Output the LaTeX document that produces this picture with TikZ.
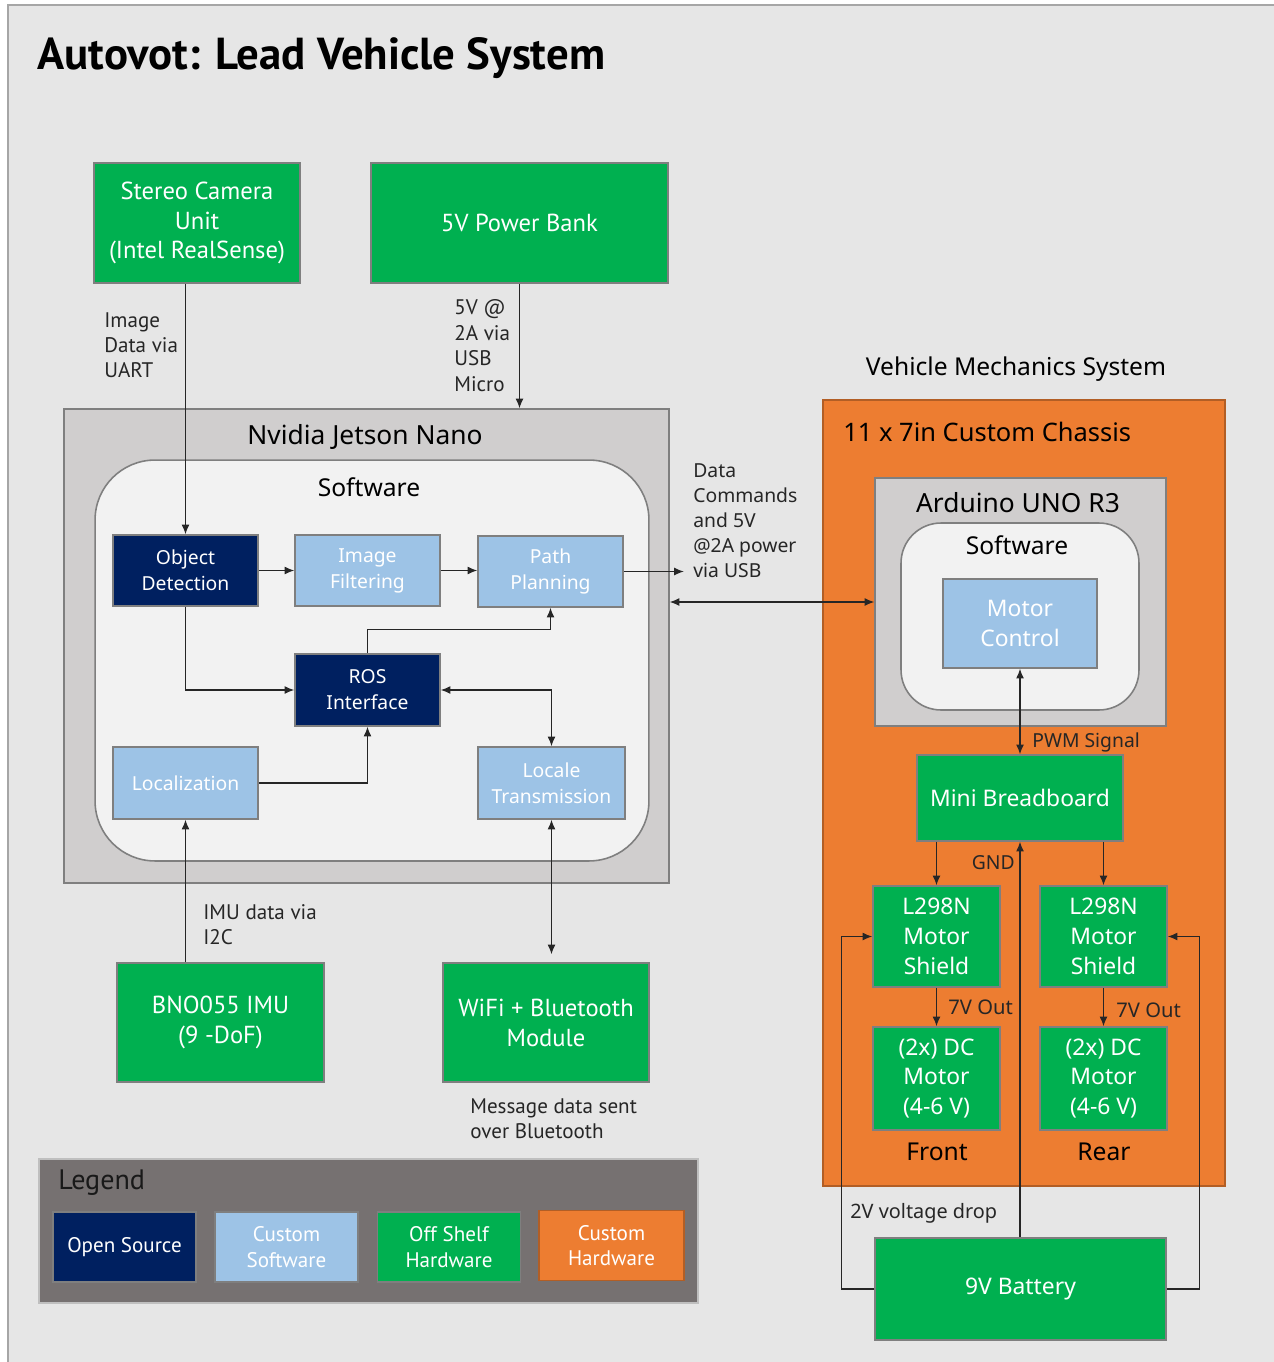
\documentclass[tikz,border=0pt]{standalone}
\usepackage{fontspec}
\setmainfont{Noto Sans}
\newfontfamily\condfont{PT Sans}
\usetikzlibrary{arrows.meta,calc,positioning}
\definecolor{Navy}{HTML}{002060}
\definecolor{SoftBlue}{HTML}{9DC3E6}
\definecolor{ShelfGreen}{HTML}{00B050}
\definecolor{ChassisOrange}{HTML}{ED7D31}
\definecolor{BoardGray}{HTML}{D0CECE}
\definecolor{PaneWhite}{HTML}{F2F2F2}
\definecolor{PageGray}{HTML}{E6E6E6}
\definecolor{LegendGray}{HTML}{767171}
\definecolor{Edge}{HTML}{7F7F7F}
\definecolor{Ink}{HTML}{262626}

\begin{document}
\begin{tikzpicture}[x=0.02cm,y=-0.02cm,>={Latex[length=5.5pt,width=4.5pt]},
  block/.style={draw=Edge,line width=0.9pt,text=white,align=center,inner sep=0pt},
  opensrc/.style={block,fill=Navy,minimum width=2.9cm,minimum height=1.42cm,font=\fontsize{11}{14.8}\selectfont},
  custsw/.style={opensrc,fill=SoftBlue},
  shelf/.style={block,fill=ShelfGreen},
  board/.style={draw=Edge,line width=0.9pt,fill=BoardGray},
  pane/.style={draw=Edge,line width=0.9pt,fill=PaneWhite},
  legendbox/.style={block,minimum width=2.86cm,minimum height=1.4cm,font=\condfont\fontsize{12}{14.5}\selectfont},
  wire/.style={line width=0.6pt,draw=black!85},
  note/.style={text=Ink,align=left,inner sep=0pt}]
  \useasboundingbox (0,0) rectangle (1274,1362);
  \fill[PageGray] (8,5) rectangle (1274,1362);
  \draw[black!35,line width=1pt] (8,1362) -- (8,5) -- (1274,5);
  \node[anchor=base west,inner sep=0pt,font=\condfont\bfseries\fontsize{25.5}{30}\selectfont] (title) at (37,70) {Autovot: Lead Vehicle System};

  % sensors and power on top
  \node[shelf,minimum width=4.12cm,minimum height=2.4cm,font=\condfont\fontsize{14}{17}\selectfont] (cam) at (197,223) {Stereo Camera\\Unit\\(Intel RealSense)};
  \node[shelf,minimum width=5.94cm,minimum height=2.4cm,font=\condfont\fontsize{14}{17}\selectfont] (bank) at (519.5,223) {5V Power Bank};

  % jetson
  \node[board,minimum width=12.1cm,minimum height=9.48cm] (jetson) at (366.5,646) {};
  \node[pane,rounded corners=1.2cm,minimum width=11.08cm,minimum height=8.02cm] (swnano) at (372,660.5) {};
  \node[font=\fontsize{15}{18}\selectfont,inner sep=0pt] (nanotitle) at (365,437) {Nvidia Jetson Nano};
  \node[font=\fontsize{14}{17}\selectfont,inner sep=0pt] (swnanotitle) at (369,487) {Software};
  \node[opensrc] (objdet) at (185.5,570.5) {Object\\Detection};
  \node[custsw] (imgfilt) at (367.5,570.5) {Image\\Filtering};
  \node[custsw] (path) at (550.5,571.5) {Path\\Planning};
  \node[opensrc,minimum height=1.44cm] (ros) at (367.5,690) {ROS\\Interface};
  \node[custsw,minimum height=1.44cm] (loc) at (185.5,783) {Localization};
  \node[custsw,minimum width=2.94cm,minimum height=1.44cm] (locale) at (551.5,783) {Locale\\Transmission};

  % modules below
  \node[shelf,minimum width=4.14cm,minimum height=2.38cm,font=\condfont\fontsize{14}{17}\selectfont] (imu) at (220.5,1022.5) {BNO055 IMU\\(9 -DoF)};
  \node[shelf,minimum width=4.12cm,minimum height=2.38cm,font=\condfont\fontsize{14}{17}\selectfont] (wifi) at (546,1022.5) {WiFi + Bluetooth\\Module};

  % vehicle mechanics
  \node[font=\fontsize{14}{17}\selectfont,inner sep=0pt] (vmtitle) at (1016,369) {Vehicle Mechanics System};
  \node[draw=ChassisOrange!75!black,line width=0.8pt,fill=ChassisOrange,minimum width=8.04cm,minimum height=15.72cm] (chassis) at (1024,793) {};
  \node[anchor=west,inner sep=0pt,font=\fontsize{14.5}{17}\selectfont] (chassistitle) at (843,432) {11 x 7in Custom Chassis};
  \node[board,minimum width=5.82cm,minimum height=4.96cm] (arduino) at (1020.5,602) {};
  \node[pane,rounded corners=0.8cm,minimum width=4.76cm,minimum height=3.74cm] (swuno) at (1020,616.5) {};
  \node[font=\fontsize{15}{18}\selectfont,inner sep=0pt] (unotitle) at (1018,503) {Arduino UNO R3};
  \node[font=\fontsize{14}{17}\selectfont,inner sep=0pt] (swunotitle) at (1017,545) {Software};
  \node[custsw,minimum width=3.08cm,minimum height=1.78cm,font=\fontsize{13}{17}\selectfont] (motor) at (1020,623.5) {Motor\\Control};
  \node[shelf,minimum width=4.12cm,minimum height=1.72cm,font=\fontsize{13}{17}\selectfont] (bread) at (1020,798) {Mini Breadboard};
  \node[shelf,minimum width=2.54cm,minimum height=2.02cm,font=\fontsize{13}{17}\selectfont] (shleft) at (936.5,936.5) {L298N\\Motor\\Shield};
  \node[shelf,minimum width=2.54cm,minimum height=2.02cm,font=\fontsize{13}{17}\selectfont] (shright) at (1103.5,936.5) {L298N\\Motor\\Shield};
  \node[shelf,minimum width=2.54cm,minimum height=2.06cm,font=\fontsize{13}{17}\selectfont] (dcleft) at (936.5,1078.5) {(2x) DC\\Motor\\(4-6 V)};
  \node[shelf,minimum width=2.54cm,minimum height=2.06cm,font=\fontsize{13}{17}\selectfont] (dcright) at (1103.5,1078.5) {(2x) DC\\Motor\\(4-6 V)};
  \node[font=\fontsize{14}{17}\selectfont,inner sep=0pt] (front) at (937,1152) {Front};
  \node[font=\fontsize{14}{17}\selectfont,inner sep=0pt] (rear) at (1104,1152) {Rear};
  \node[shelf,minimum width=5.82cm,minimum height=2.04cm,font=\fontsize{13}{17}\selectfont] (batt) at (1020.5,1289) {9V Battery};

  % legend
  \node[draw=black!25,line width=1pt,fill=LegendGray,minimum width=13.18cm,minimum height=2.88cm] (legend) at (368.5,1231) {};
  \node[anchor=west,inner sep=0pt,text=black!90,font=\condfont\fontsize{16}{19}\selectfont] (legendtitle) at (58,1183) {Legend};
  \node[legendbox,fill=Navy] (lgopen) at (124.5,1247) {Open Source};
  \node[legendbox,fill=SoftBlue] (lgsoft) at (286.5,1247) {Custom\\Software};
  \node[legendbox,fill=ShelfGreen] (lgshelf) at (449,1247) {Off Shelf\\Hardware};
  \node[legendbox,fill=ChassisOrange,draw=ChassisOrange!75!black,minimum width=2.9cm] (lghard) at (611.5,1245.5) {Custom\\Hardware};

  % connectors
  \draw[wire,->] (cam.south -| objdet.north) -- (objdet.north);
  \draw[wire,->] (bank.south) -- (bank.south |- jetson.north);
  \draw[wire,->] (objdet.east) -- (imgfilt.west);
  \draw[wire,->] (imgfilt.east) -- (imgfilt.east -| path.west);
  \draw[wire,->] (path.east) -- ++(60,0) coordinate (pathout);
  \draw[wire,->] (objdet.south) |- (ros.west);
  \draw[wire,->] (ros.north) -- ++(0,-24) -| (path.south);
  \draw[wire,->] (loc.east) -| (ros.south);
  \draw[wire,<->] (ros.east) -| (locale.north);
  \draw[wire,->] (imu.north -| loc.south) -- (loc.south);
  \draw[wire,<->,shorten >=0.16cm] (locale.south) -- (locale.south |- wifi.north);
  \draw[wire,<->] (jetson.east |- arduino.west) -- (arduino.west);
  \draw[wire,<->] (motor.south) -- (bread.north);
  \draw[wire,->] (bread.south -| shleft.north) -- (shleft.north);
  \draw[wire,->] (bread.south -| shright.north) -- (shright.north);
  \draw[wire,->] (shleft.south) -- (dcleft.north);
  \draw[wire,->] (shright.south) -- (dcright.north);
  \draw[wire,->] (batt.north -| bread.south) -- (bread.south);
  \draw[wire,->] (batt.west) -- ++(-33,0) |- (shleft.west);
  \draw[wire,->] (batt.east) -- ++(33,0) |- (shright.east);

  % connector labels
  \node[note,anchor=west,font=\condfont\fontsize{12}{14.3}\selectfont] (uartnote) at (104,345) {Image\\Data via\\UART};
  \node[note,anchor=west,font=\condfont\fontsize{12}{14.5}\selectfont] (usbnote) at (454,345.5) {5V @\\2A via\\USB\\Micro};
  \node[note,anchor=west,font=\fontsize{11}{14.3}\selectfont] (cmdnote) at (693,520.5) {Data\\Commands\\and 5V\\@2A power\\via USB};
  \node[note,anchor=west,font=\condfont\fontsize{12}{14.3}\selectfont] (i2cnote) at (203,924.5) {IMU data via\\I2C};
  \node[note,anchor=west,font=\condfont\fontsize{12}{14.3}\selectfont] (btnote) at (470,1118.5) {Message data sent\\over Bluetooth};
  \node[note,anchor=west,font=\fontsize{11}{14}\selectfont] (pwmnote) at (1032,742) {PWM Signal};
  \node[note,anchor=east,font=\fontsize{11}{14}\selectfont] (gndnote) at (1015,863) {GND};
  \node[note,anchor=west,font=\fontsize{11.5}{14}\selectfont] (outleft) at (948,1007) {7V Out};
  \node[note,anchor=west,font=\fontsize{11.5}{14}\selectfont] (outright) at (1116,1010) {7V Out};
  \node[note,anchor=west,font=\fontsize{11.3}{14}\selectfont] (dropnote) at (850,1213) {2V voltage drop};
\end{tikzpicture}
\end{document}
